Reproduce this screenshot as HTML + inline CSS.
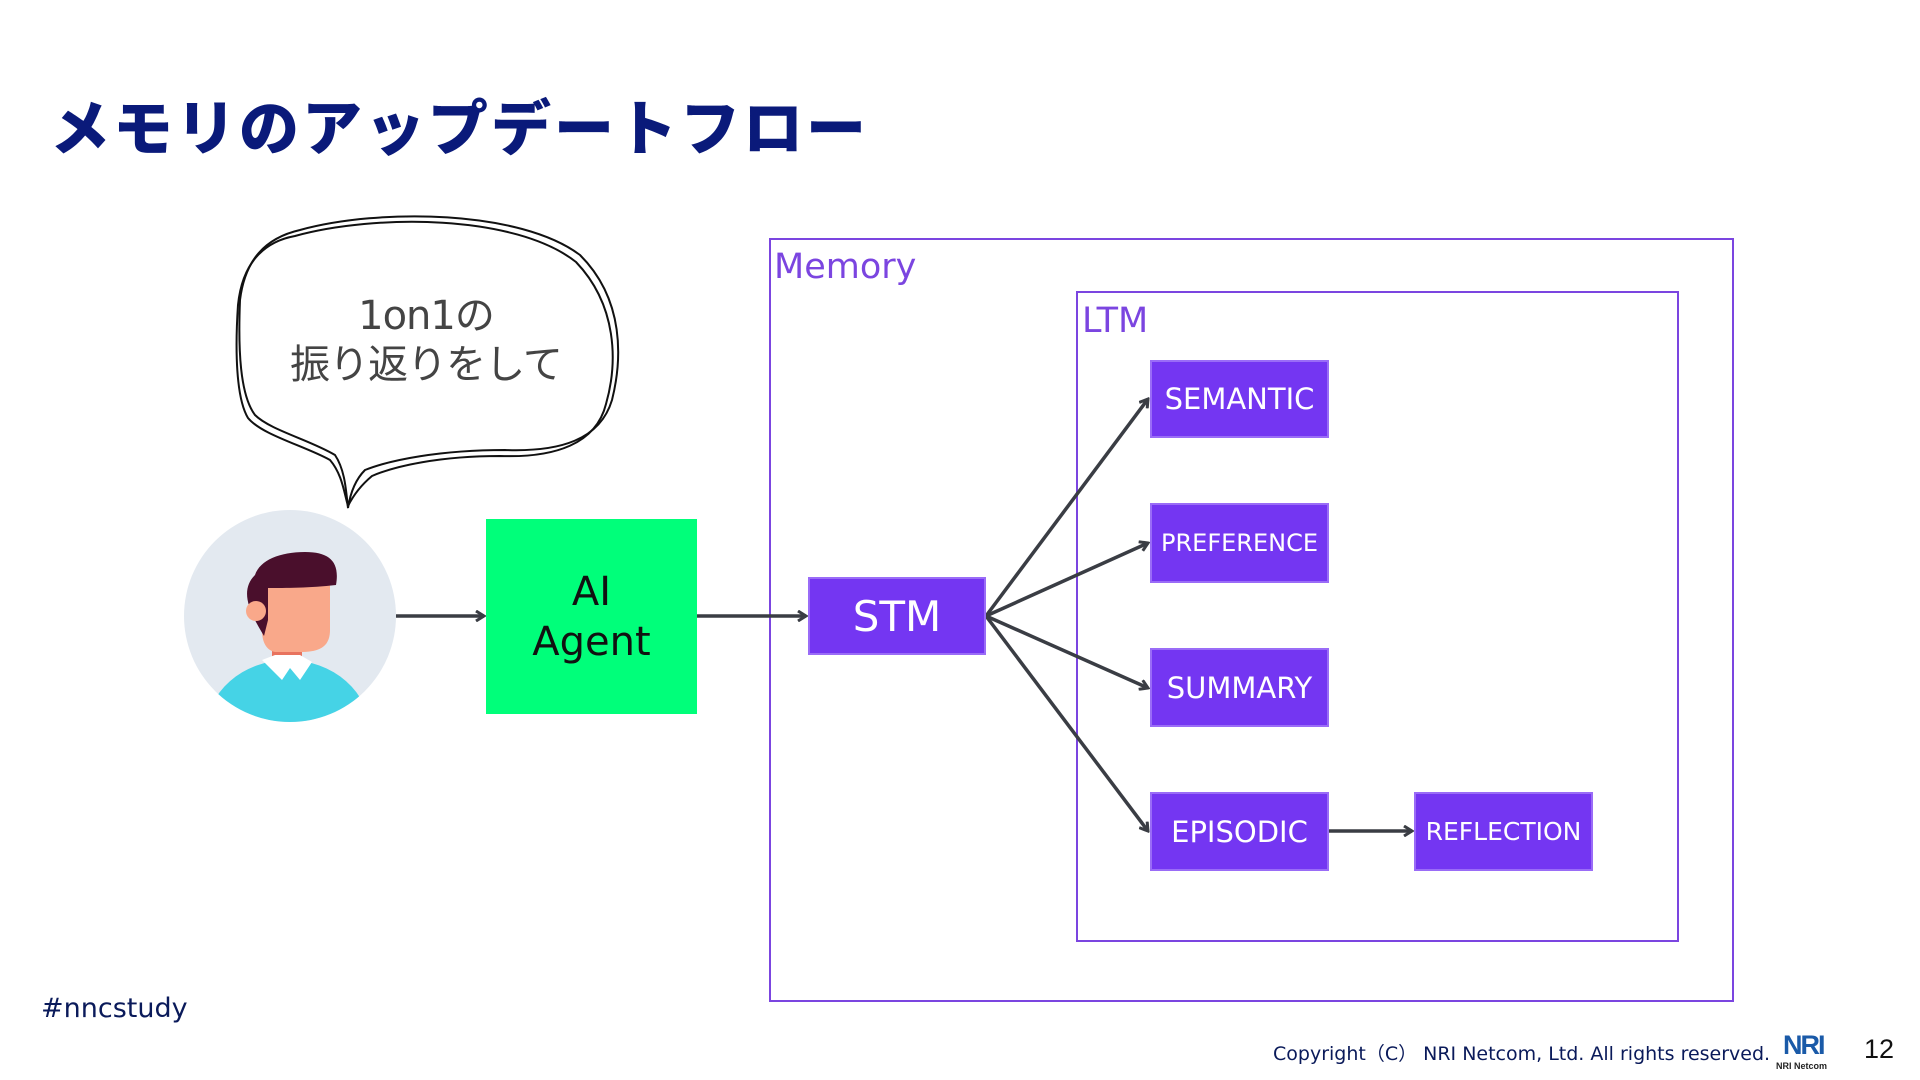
<!DOCTYPE html>
<html><head><meta charset="utf-8">
<style>
body{margin:0;width:1920px;height:1080px;background:#fff;position:relative;overflow:hidden;font-family:"Liberation Sans","Noto Sans CJK JP",sans-serif}
.a{position:absolute}
.box{position:absolute;background:#7436F2;border:2px solid #9a6cf7;box-sizing:border-box;color:#fff;display:flex;align-items:center;justify-content:center;font-family:"DejaVu Sans","Noto Sans CJK JP",sans-serif}
</style></head><body>
<div class="a" style="left:50px;top:84px;font-size:60px;font-weight:900;color:#0a1a7a;letter-spacing:3px;font-family:'Noto Sans CJK JP',sans-serif;line-height:82px">メモリのアップデートフロー</div>

<div class="a" style="left:769px;top:238px;width:965px;height:764px;border:2px solid #7b45e0;box-sizing:border-box"></div>
<div class="a" style="left:774px;top:247px;font-size:35px;color:#7b45e0;font-family:'DejaVu Sans',sans-serif">Memory</div>
<div class="a" style="left:1076px;top:291px;width:603px;height:651px;border:2px solid #7b45e0;box-sizing:border-box"></div>
<div class="a" style="left:1082px;top:301px;font-size:35px;color:#7b45e0;font-family:'DejaVu Sans',sans-serif">LTM</div>

<svg class="a" style="left:0;top:0" width="1920" height="1080">
<defs><marker id="m" markerWidth="12" markerHeight="12" refX="10" refY="6" orient="auto" markerUnits="userSpaceOnUse"><path d="M2,1 L10,6 L2,11" fill="none" stroke="#3a3d44" stroke-width="3"/></marker></defs>
<g stroke="#3a3d44" stroke-width="3.5" fill="none" marker-end="url(#m)">
<line x1="396" y1="616" x2="484" y2="616"/>
<line x1="697" y1="616" x2="806" y2="616"/>
<line x1="986" y1="616" x2="1148" y2="399"/>
<line x1="986" y1="616" x2="1148" y2="543"/>
<line x1="986" y1="616" x2="1148" y2="688"/>
<line x1="986" y1="616" x2="1148" y2="831"/>
<line x1="1329" y1="831" x2="1412" y2="831"/>
</g>
<g fill="none" stroke="#111" stroke-width="2">
<path d="M300,230 C380,208 520,210 580,255 C625,300 622,360 612,400 C600,440 560,452 505,450 C440,450 390,460 365,470 C355,480 350,495 348,508 C346,490 345,470 335,455 C310,440 270,430 255,415 C240,395 238,350 240,300 C245,260 265,238 300,230 Z"/>
<path d="M295,236 C375,214 515,214 576,262 C617,305 618,362 606,404 C596,444 555,458 500,456 C440,456 395,466 372,476 C360,486 352,498 348,506 C344,492 342,474 330,460 C305,446 262,435 248,418 C236,398 235,350 238,305 C242,265 262,242 295,236 Z"/>
</g>
<text x="426" y="329" font-size="40" fill="#444" text-anchor="middle" letter-spacing="-1" font-family="DejaVu Sans,Noto Sans CJK JP,sans-serif">1on1の</text>
<text x="426" y="378" font-size="40" fill="#444" text-anchor="middle" letter-spacing="-1" font-family="Noto Sans CJK JP,sans-serif">振り返りをして</text>
<clipPath id="c"><circle cx="290" cy="616" r="106"/></clipPath>
<circle cx="290" cy="616" r="106" fill="#e3e9f0"/>
<g clip-path="url(#c)">
<ellipse cx="288" cy="732" rx="82" ry="72" fill="#45d3e6"/>
<rect x="272" y="630" width="30" height="35" fill="#e8735e"/>
<path d="M262,660 L282,680 L290,668 L300,680 L312,662 L300,655 L275,655Z" fill="#fff"/>
<path d="M262,585 L330,585 L330,630 C330,648 318,652 300,652 L275,652 C265,650 262,640 262,630Z" fill="#f9a88a"/>
<path d="M264,636 C248,610 240,590 255,575 C260,560 280,552 305,552 C330,552 340,562 336,585 C310,588 285,588 268,588 L268,620Z" fill="#4a0f2c"/>
<circle cx="256" cy="611" r="10" fill="#f9a88a"/>
</g>
</svg>

<div class="box" style="left:486px;top:519px;width:211px;height:195px;background:#00ff7a;border:none;color:#111;font-size:40px;text-align:center;line-height:50px">AI<br>Agent</div>
<div class="box" style="left:808px;top:577px;width:178px;height:78px;font-size:42px">STM</div>
<div class="box" style="left:1150px;top:360px;width:179px;height:78px;font-size:29px">SEMANTIC</div>
<div class="box" style="left:1150px;top:503px;width:179px;height:80px;font-size:24px">PREFERENCE</div>
<div class="box" style="left:1150px;top:648px;width:179px;height:79px;font-size:29px">SUMMARY</div>
<div class="box" style="left:1150px;top:792px;width:179px;height:79px;font-size:29px">EPISODIC</div>
<div class="box" style="left:1414px;top:792px;width:179px;height:79px;font-size:25px">REFLECTION</div>

<div class="a" style="left:41px;top:993px;font-size:27px;color:#0a1a5a;font-family:'DejaVu Sans',sans-serif">#nncstudy</div>
<div class="a" style="left:1273px;top:1039px;font-size:19px;color:#0a1a5a;font-family:'DejaVu Sans','Noto Sans CJK JP',sans-serif">Copyright（C） NRI Netcom, Ltd. All rights reserved.</div>
<div class="a" style="left:1783px;top:1030px;font-size:27px;font-weight:bold;color:#1a5aa8;font-family:'Liberation Sans',sans-serif;letter-spacing:-2px">NRI</div>
<div class="a" style="left:1776px;top:1061px;font-size:9px;font-weight:bold;color:#222">NRI Netcom</div>
<div class="a" style="left:1864px;top:1034px;font-size:27px;color:#111">12</div>
</body></html>
